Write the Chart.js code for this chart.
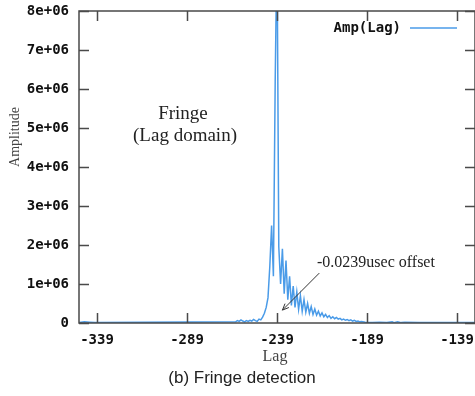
<!DOCTYPE html>
<html>
<head>
<meta charset="utf-8">
<script src="https://cdn.jsdelivr.net/npm/chart.js@4"></script>
<style>
  body { margin: 0; background: #fff; }
  #c { display: block; }
</style>
</head>
<body>
<canvas id="c" width="475" height="396"></canvas>
<script>
// Fringe amplitude vs lag (values in millions)
const lags = [-349, -346, -343, -340,
  -262, -261, -260, -259, -258, -257, -256, -255, -254, -253, -252, -251, -250,
  -249, -248, -247, -246, -245, -244, -243, -242, -241, -240, -239, -238, -237,
  -236, -235, -234, -233, -232, -231, -230, -229, -228, -227, -226, -225, -224,
  -223, -222, -221, -220, -219, -218, -217, -216, -215, -214, -213, -212, -211,
  -210, -209, -208, -207, -206, -205, -204, -203, -202, -201, -200, -199, -198,
  -197, -196, -195, -194, -193, -192,
  -190, -186, -182, -178, -175, -174, -172, -170, -168, -160, -150, -140, -129];
const ampMillions = [0.01, 0.03, 0.02, 0.01,
  0.03, 0.06, 0.04, 0.08, 0.05, 0.03, 0.06, 0.04, 0.07, 0.05, 0.09, 0.06, 0.04,
  0.10, 0.08, 0.15, 0.25, 0.40, 0.65, 1.45, 2.5, 1.2, 6.2, 9.8, 1.95, 1.0,
  1.9, 0.75, 1.6, 0.6, 1.2, 0.45, 0.95, 0.4, 0.8, 0.35, 0.7, 0.3, 0.6,
  0.28, 0.5, 0.25, 0.42, 0.22, 0.36, 0.2, 0.3, 0.18, 0.26, 0.16, 0.22, 0.14,
  0.19, 0.12, 0.16, 0.11, 0.14, 0.1, 0.12, 0.08, 0.1, 0.07, 0.09, 0.06, 0.08,
  0.05, 0.07, 0.04, 0.05, 0.03, 0.04,
  0.02, 0.01, 0.02, 0.01, 0.03, 0.01, 0.03, 0.01, 0.02, 0.01, 0.01, 0.01, 0.01];

const xTicks = [-339, -289, -239, -189, -139];
const yTicks = [0, 1e6, 2e6, 3e6, 4e6, 5e6, 6e6, 7e6, 8e6];
const yTickLabels = ['0', '1e+06', '2e+06', '3e+06', '4e+06', '5e+06', '6e+06', '7e+06', '8e+06'];

const seriesName = 'Amp(Lag)';
const lineColor = '#4a9be8';
const tickFont = { family: 'DejaVu Sans Mono', size: 14, weight: 'bold' };

// annotation arrow, in data coords
const arrowFrom = [-215.5, 1.28e6];
const arrowTo = [-236, 0.33e6];

const points = lags.map((l, i) => ({ x: l, y: ampMillions[i] * 1e6 }));

const frame = {
  id: 'frame',
  afterDraw(chart) {
    const { ctx, chartArea: a, scales: { x, y } } = chart;
    ctx.save();
    ctx.strokeStyle = '#4a4a4a';
    ctx.lineWidth = 1.5;
    ctx.strokeRect(a.left, a.top, a.right - a.left, a.bottom - a.top);
    const tl = 10;
    ctx.beginPath();
    xTicks.forEach(v => {
      const px = Math.round(x.getPixelForValue(v)) + 0.5;
      ctx.moveTo(px, a.bottom); ctx.lineTo(px, a.bottom - tl);
      ctx.moveTo(px, a.top); ctx.lineTo(px, a.top + tl);
    });
    yTicks.forEach(v => {
      const py = Math.round(y.getPixelForValue(v)) + 0.5;
      ctx.moveTo(a.left, py); ctx.lineTo(a.left + tl, py);
      ctx.moveTo(a.right, py); ctx.lineTo(a.right - tl, py);
    });
    ctx.stroke();

    // legend
    ctx.fillStyle = '#111';
    ctx.font = 'bold 14px "DejaVu Sans Mono"';
    ctx.textAlign = 'right';
    ctx.textBaseline = 'middle';
    ctx.fillText(seriesName, 401, 28);
    ctx.strokeStyle = lineColor;
    ctx.lineWidth = 1.5;
    ctx.beginPath();
    ctx.moveTo(410, 28); ctx.lineTo(457, 28);
    ctx.stroke();

    // texts
    ctx.fillStyle = '#222';
    ctx.textAlign = 'center';
    ctx.font = '19px "Liberation Serif"';
    ctx.fillText('Fringe', 183, 114);
    ctx.fillText('(Lag domain)', 185, 136);
    ctx.font = '16px "Liberation Serif"';
    ctx.textAlign = 'left';
    ctx.fillText('-0.0239usec offset', 317, 263);

    // arrow
    const x1 = x.getPixelForValue(arrowFrom[0]), y1 = y.getPixelForValue(arrowFrom[1]);
    const x2 = x.getPixelForValue(arrowTo[0]), y2 = y.getPixelForValue(arrowTo[1]);
    ctx.strokeStyle = '#333';
    ctx.lineWidth = 1;
    ctx.beginPath();
    ctx.moveTo(x1, y1); ctx.lineTo(x2, y2);
    const ang = Math.atan2(y2 - y1, x2 - x1), h = 7;
    ctx.moveTo(x2, y2); ctx.lineTo(x2 - h * Math.cos(ang - 0.4), y2 - h * Math.sin(ang - 0.4));
    ctx.moveTo(x2, y2); ctx.lineTo(x2 - h * Math.cos(ang + 0.4), y2 - h * Math.sin(ang + 0.4));
    ctx.stroke();

    // axis titles
    ctx.fillStyle = '#444';
    ctx.textAlign = 'center';
    ctx.font = '16px "Liberation Serif"';
    ctx.fillText('Lag', 275, 357);
    ctx.save();
    ctx.translate(15, 137);
    ctx.rotate(-Math.PI / 2);
    ctx.font = '14px "Liberation Serif"';
    ctx.fillText('Amplitude', 0, 0);
    ctx.restore();

    // caption
    ctx.fillStyle = '#222';
    ctx.font = '17px "Liberation Sans"';
    ctx.fillText('(b) Fringe detection', 242, 378);
    ctx.restore();
  }
};

new Chart(document.getElementById('c'), {
  type: 'line',
  data: {
    datasets: [{
      label: seriesName,
      data: points,
      borderColor: lineColor,
      borderWidth: 1.5,
      pointRadius: 0,
      tension: 0
    }]
  },
  options: {
    responsive: false,
    animation: false,
    layout: { padding: { top: 11, right: 0, left: 0, bottom: 0 } },
    plugins: { legend: { display: false }, tooltip: { enabled: false } },
    scales: {
      x: {
        type: 'linear',
        min: -349,
        max: -129,
        afterBuildTicks: s => { s.ticks = xTicks.map(v => ({ value: v })); },
        afterFit: s => { s.height = 73; s.paddingLeft = 0; s.paddingRight = 0; },
        grid: { display: false, drawTicks: false },
        border: { display: false },
        ticks: { font: tickFont, color: '#111', padding: 9, maxRotation: 0, autoSkip: false }
      },
      y: {
        min: 0,
        max: 8e6,
        afterBuildTicks: s => { s.ticks = yTicks.map(v => ({ value: v })); },
        afterFit: s => { s.width = 79; s.paddingTop = 0; s.paddingBottom = 0; },
        grid: { display: false, drawTicks: false },
        border: { display: false },
        ticks: {
          font: tickFont, color: '#111', padding: 10,
          callback: (v, i) => yTickLabels[i]
        }
      }
    }
  },
  plugins: [frame]
});
</script>
</body>
</html>
